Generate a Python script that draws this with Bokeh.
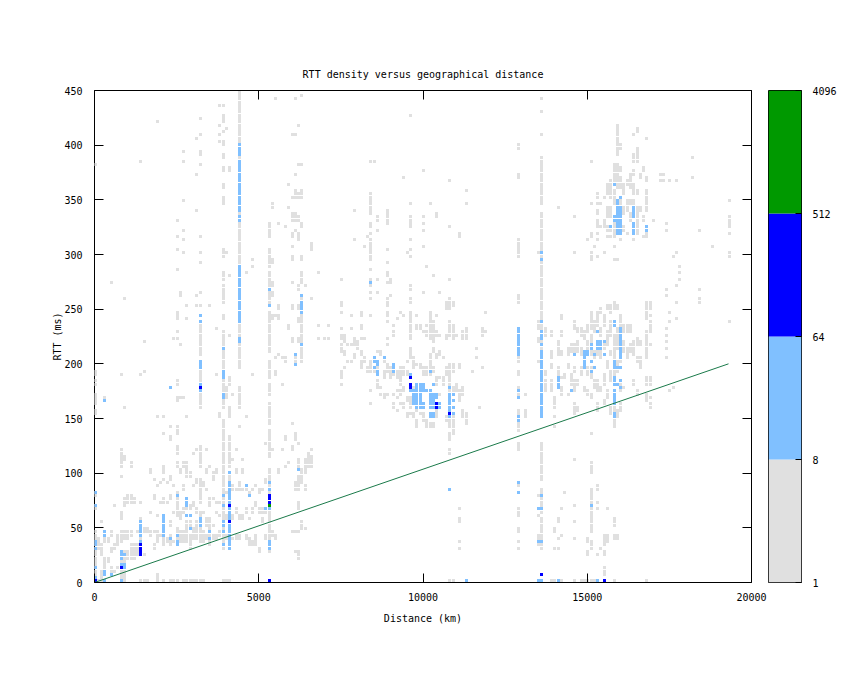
import math
from bokeh.plotting import figure
from bokeh.layouts import row
from bokeh.models import ColumnDataSource, FixedTicker, LinearAxis, Range1d
from bokeh.embed import file_html
from bokeh.resources import INLINE

# Each run: (distance km, rtt_lo, rtt_hi, rtt_lo, rtt_hi, ...)
gray_west = [
 (0,0,48,66,72,78,84,152,160,162,175,180,187,190,195,380,383),
 (100,0,3,30,42),(200,0,12,24,36,54,57),(300,5,25,36,48,165,170),(400,18,24,36,42),
 (500,8,14,28,34,42,48,272,275),(600,8,12,30,36,70,73),(700,12,16,34,44),
 (800,0,30,36,48,56,66,96,100,106,124,190,193),
 (900,0,12,17,30,40,48,68,78,110,118,160,163,257,260),
 (1000,22,30,40,48,72,80),(1100,22,36,42,48,72,82,105,112),(1200,22,36,72,78),
 (1300,24,36,44,48),(1400,0,3,24,60,72,76,190,193,384,386),(1500,0,3,24,27,46,50,192,195,218,221),
 (1600,0,3,46,50),(1700,42,48,62,66,100,105),(1800,30,36,44,48,74,80,92,95),
 (1900,0,10,36,48,60,63,88,91,150,153,420,423),(2000,42,46,72,76,90,93),
 (2100,0,3,33,62,72,78,92,95,100,108,135,138,150,153),(2200,36,42,72,75,90,93),
 (2300,0,3,34,44,50,56,76,80,92,100,130,135,140,145,177,180),(2400,0,3,36,40,62,66,86,90,222,225),
 (2500,0,3,33,50,60,84,104,110,118,125,135,143,165,172,180,186,222,225,229,232,240,250,285,288,303,306,316,319,330,333),
 (2600,36,48,58,66,100,106,168,172,215,218,260,266),
 (2700,0,3,36,48,62,70,84,90,106,112,168,172,300,303,312,315,320,323,348,351,383,386,393,396),
 (2800,0,3,36,58,66,78,96,111,150,153,240,242,252,254),(2900,0,3,30,44,50,56,66,72,96,102),
 (3000,0,3,38,50,68,74,86,90,118,120),(3100,0,3,40,56,64,70,90,96,120,123,252,255,262,265,340,343,372,375,404,406),
 (3200,0,3,36,66,72,95,105,125,160,196,206,236,314,317,300,303,292,295,265,268,252,255,380,383,390,395,408,410,423,425),
 (3300,0,3,36,48,62,66,86,92),(3400,40,44,52,60,84,88,100,104,120,123),
 (3500,33,60,70,78,105,108,252,254),(3600,38,44,50,54,74,78,92,102),(3700,40,44,62,66,72,75,100,104,190,193,232,234),
 (3800,42,48,60,64,72,75,150,155,408,410,416,420,402,405,434,437),
 (3900,0,3,30,45,45,125,125,150,160,220,220,232,240,245,254,272,275,284,296,305,345,355,360,365,375,382,386,394,399,404,412,415,420,428,436,438),
 (4000,0,3,38,44,58,64,80,84,168,180,300,303,415,418),
 (4100,0,3,30,100,105,125,125,135,150,162,180,190,226,228,280,283,374,380),
 (4200,38,42,56,62,84,90,110,113,170,172),(4300,38,46,64,68,84,88,100,105,120,123),
 (4400,40,44,58,62,84,92,140,145,160,180,195,225,225,240,240,290,290,340,340,400,400,450),
 (4500,56,64,84,88,100,105,110,113),(4600,38,44,64,68,84,88,150,153,282,284),
 (4700,32,42,56,60,78,84),(4800,32,40,64,70,84,88,190,193,288,290,293,296),(4900,32,44,70,74,86,90),
 (5000,28,34,62,68,82,86),(5100,54,60,64,68,84,88),(5200,40,46,64,68,90,96,125,130),
 (5300,0,3,28,40,40,68,68,105,115,140,145,165,172,182,185,205,210,250,252,284,288,306,316,330),
 (5400,42,48,120,124,240,245,260,266,270,276,290,297,342,348),(5500,40,44,190,194,203,206,243,246,441,443),
 (5600,100,104,206,210,240,245,250,256,328,331),(5700,120,124,180,183,205,208),
 (5800,104,108,130,135,200,206,323,326),(5900,108,112,232,237,342,344,364,366),
 (6000,44,48,120,125,143,147,220,226,250,255,272,277,295,300,305,308,315,322,330,338,350,354,408,411),
 (6100,26,30,44,48,84,92,130,138,200,210,320,325,330,340,350,360,372,376,408,411,442,444),
 (6200,20,30,44,48,66,75,84,100,106,115,125,130,220,225,238,242,250,255,268,273,312,320,330,335,352,357,380,383,416,418),
 (6300,48,56,90,105,200,250,250,260,272,285,295,300,325,330,350,360,380,384,444,447),
 (6400,48,52,85,90,100,115,270,272),(6500,105,120),(6600,105,118,120,124,258,262,304,313),
]
gray_mid = [
 (6800,223,226,233,236,282,284),(7000,223,226),(7100,223,225,233,236),
 (7500,180,183,187,189,190,194,210,218,221,229,230,233,245,250,251,257,275,278),
 (7600,195,198,208,212,220,228),(7700,200,205,215,220),(7800,200,203,215,218,230,233,242,245),
 (7900,205,210,215,222,223,226,311,314,338,341),(8000,214,222),(8100,195,204,208,214,223,226,230,236,242,245,245,247),
 (8200,202,206,223,226,305,308),(8300,192,198,314,317),
 (8400,192,205,174,177,162,165,242,245,257,260,263,266,269,272,275,278,284,287,293,314,317,322,323,329,335,345,345,356,383,386),
 (8500,192,198,383,386),(8600,178,186,192,198,210,213,320,322,329,335,263,266,275,278),
 (8700,170,175,176,180,208,213),(8800,168,174,186,195,200,204),
 (8900,170,175,192,202,215,218,223,226,236,239,242,250,251,260,272,275,278,280,282,284,290,293,303,305,326,335,335,341),
 (9000,186,198,260,263,272,278),(9100,159,164,170,175,190,198,225,230,233,236),(9200,155,160,168,172,174,178,186,196,240,242),
 (9300,162,166,170,178,180,198,245,247),(9400,158,166,175,180,190,198,242,245,370,373),
 (9500,150,155,165,170,190,195,200,205,299,302),
 (9600,152,156,160,170,185,190,205,215,223,250,254,260,266,272,296,300,303,305,311,314,323,335,345,347,425,428),
 (9700,150,157,175,180,196,200,202,206),(9800,140,150,155,160,198,202,230,236,242,245),(9900,153,156,195,200,230,236),
 (10000,147,155,175,180,190,198,228,232,263,266,305,308,320,322,326,329,332,335,374,377),
 (10100,142,150,190,198,225,230,229,232,233,236,287,290),(10200,140,146,190,210,223,250,346,349),
 (10300,140,146,192,198,210,215,220,239,278,280),(10400,150,158,180,190,205,210,225,232,242,245,332,338),
 (10500,172,175,185,190,208,212,226,229,263,266),(10600,180,188,203,208),(10700,147,153,190,197,223,227,248,250,251,257),
 (10800,0,3,118,122,130,138,140,185,185,200,225,240,248,260,275,280,323,326,366,368),
 (10900,0,3,135,155,170,180,192,200,225,230,223,226,230,237,251,257),(11000,175,183,226,229),
 (11100,30,33,35,40,55,60,65,70,165,178,195,200,314,320),(11200,151,159,171,180,223,230),(11300,0,3,145,156,223,233,344,346,357,359),
 (11500,193,195),(11600,204,208,214,216),(11700,160,162),(11800,195,197,226,233),(11900,227,230,245,247),
]
gray_east = [
 (12900,30,33,35,38,44,50,60,70,80,85,88,92,120,128,138,160,170,180,190,195,200,207,209,215,230,233,254,263,296,300,301,314,368,374,396,401),
 (13100,150,160,170,174),(13500,0,3,32,36,40,45,60,62,78,82,200,205,220,224,230,240,300,303),
 (13600,30,48,48,60,63,88,94,120,120,130,150,155,155,240,240,292,292,340,345,390,408,410,429,431,441,443),
 (13700,175,185,190,195,225,233),(13900,174,186,195,200,204,212,225,230,0,3),(14000,30,33,44,50,140,142,150,154,160,172,0,3),
 (14100,0,3,183,198,206,222,40,43,55,60,30,33,342,345),(14200,0,3,170,180,186,190,206,212,225,230,240,245,41,43,65,70),
 (14300,186,192,80,82),(14400,170,174,195,200,208,216),(14500,180,192,210,220),
 (14600,55,58,40,43,70,73,153,165,174,186,192,198,206,218,230,240,110,113,300,303,332,335,0,3),(14700,155,162,180,186,210,222,228,234),
 (14800,0,3,189,198,207,216,225,234),(14900,0,3,175,180,198,207,222,231),(15000,0,3,25,30,35,42,171,177,190,198,210,222,228,237,312,315),
 (15100,0,3,30,40,45,55,55,72,72,80,80,88,100,110,168,174,186,198,207,228,232,250,294,302,316,320,345,347,383,385,134,137),
 (15200,0,3,177,186,204,213,228,240,305,308),
 (15300,0,3,24,26,65,70,72,75,85,90,156,165,174,186,207,216,234,249,296,299,311,314,317,320,324,332,336,341,345,349,352,358),
 (15400,30,32,174,180,204,213,225,234,246,252,325,328,345,349),
 (15500,0,3,5,8,10,14,25,30,34,44,162,168,180,192,213,222,234,246,324,332,350,353,299,301),
 (15600,35,44,65,70,168,177,195,204,216,231,250,255,316,318,320,326,333,345,354,366),
 (15700,153,162,183,195,207,213,225,240,246,255,316,318,320,326,333,345,350,368),
 (15800,0,3,38,44,52,60,141,150,156,174,186,198,204,228,234,240,249,258,294,296,305,307,315,330,345,360,366,384),
 (15900,40,45,150,160,192,204,213,234,248,255,294,296,317,350,360,384,390,398,400,413,414,420),
 (16000,155,165,174,186,201,216,234,246,312,315,317,350,360,372,375,380,395,403),
 (16100,177,180,210,222,228,237,320,328,336,345,355,365),(16200,204,216,228,237,318,322,340,350,362,370),
 (16300,210,219,228,237,330,340,345,350,360,375),(16400,180,186,207,222,312,315,336,350,354,366,372,378,385,392,408,410),
 (16500,171,177,201,207,216,225,318,345,354,360,384,396,395,398,412,416),(16600,195,207,216,222,340,345,370,375),(16700,315,318,330,336,375,382),
 (16800,0,3,165,175,180,190,205,232,240,257,316,322,340,360,365,372,406,408),
 (16900,160,165,168,172,180,190,216,220,227,240,243,247,248,257),(17000,330,333),(17200,366,368,371,374),
 (17300,371,374,366,368),(17400,203,206,213,216,220,222,225,228,232,235,260,263,268,271,321,324,327,330),
 (17500,174,177,238,241,247,250,366,368),(17600,176,178,298,300),(17700,240,242,254,257,270,272,299,301,366,368),
 (17800,275,277,282,284,288,290),(18200,368,371,387,389),(18400,255,260,267,270,320,322),(18800,306,309),
 (19300,236,239,296,302,317,320,324,335,347,350),
]
light_runs = [
 (0,3,6,12,15,30,33,33,39,69,72,81,84),(300,0,3,6,12,42,48,165,168),(500,6,9),(800,0,3,15,18,21,30),
 (900,12,18,24,27),(1400,36,39,42,54,54,57),(2100,42,54,54,63),(2300,39,42,177,180),
 (2500,33,39,42,45,78,81),(2800,60,63,69,72,72,78),(2900,48,51,60,63),
 (3200,51,54,54,60,174,177,180,183,195,198,198,204,242,245,236,239),
 (3500,39,42,45,48),(3900,33,36,45,48,51,54,54,57,69,72,78,81,168,174,186,189,189,195,213,216),
 (4100,30,33,33,42,42,54,57,63,63,69,72,84,84,93,99,102),(4400,219,225,237,240,240,252,252,261,261,273,273,282,282,288,288,291,330,336,339,345,345,357,357,366,366,378,378,387,390,396,396,402),
 (4600,87,90),(4700,78,81),(5200,66,69),(5300,30,33,33,39,66,69,84,87,90,93,252,255,267,270),
 (6100,198,201,207,210),(6200,102,105),(6300,216,219,246,252,252,258,261,264),
 (8400,273,276),(8500,195,198,201,207),(8600,189,195,198,204),(8800,204,207),(9100,192,198,198,201),
 (9600,174,177,189,192),(9700,162,174,174,177),(9800,159,168,168,183),(9900,159,168,168,183),(10000,159,165,174,177,177,183),
 (10100,174,177),(10200,150,156,159,174,192,195,174,177),(10300,150,156,159,174,180,183),(10400,168,174),(10500,159,165),
 (10800,150,153,156,168,168,174,177,180),(10900,153,156,165,168,171,174,159,162),
 (10800,84,87),(11300,0,3),(12900,81,84,90,93,147,153,168,171,174,177,207,210,210,219,219,231,231,234),
 (13500,0,3,36,39,66,69),(13600,0,3,36,39,66,69,78,81,150,156,156,168,168,177,177,189,189,198,198,210,210,213,216,219,222,231,237,240,294,297,300,303),
 (14100,0,3,177,189),(14500,174,177),(14600,207,210),(14900,195,198,198,210,210,213),(15000,207,210,210,213),
 (15100,69,72,192,195,201,204,213,219),(15200,195,198,207,210),(15300,0,3,213,219,219,222,228,231),(15400,213,222),(15500,207,210,219,222),
 (15700,324,327),(15800,150,156,162,168,168,177,180,189,195,198,198,204,234,240,330,336,363,366),
 (15900,180,183,195,198,318,324,324,336,336,345,345,351),
 (16000,177,180,183,186,195,198,204,210,210,222,222,231,231,234,318,324,324,336,336,345,351,354),
 (16400,318,324,324,330,333,336,336,345),(16800,321,324,324,327),
]
blue_runs = [(0,0,3),(800,12,15),(1400,24,33,33,36),(3200,177,180),(4100,54,57,69,72),(5300,0,3,72,81),
 (9600,177,183,186,189),(10400,159,165),(10800,153,156),(13600,6,9),(15500,0,3)]
green_runs = [(5300,69,72)]

line_km = [0, 19300]
line_rtt = [0, 200]
x_ticks = [0, 5000, 10000, 15000, 20000]
y_ticks = [0, 50, 100, 150, 200, 250, 300, 350, 400, 450]
cb_levels = [1, 8, 64, 512, 4096]
cb_colors = ["#e0e0e0", "#80c0ff", "#0000ff", "#009900"]

FW, FH = 657, 492
XMAX, YMAX = 20000, 450
SX, SY = FW / XMAX, FH / YMAX
FONT = "DejaVu Sans Mono"


def cells(*groups):
    seen = set()
    for g in groups:
        for rec in g:
            km = rec[0]
            for i in range(1, len(rec), 2):
                a = round(rec[i] / 3)
                b = max(round(rec[i + 1] / 3), a + 1)
                for k in range(a, b):
                    seen.add((km, k * 3))
    d = dict(left=[], right=[], top=[], bottom=[])
    for km, m in sorted(seen):
        px = math.floor(km * SX) - 0.5
        py = math.floor(m * SY) + 0.5
        d["left"].append(px / SX)
        d["right"].append((px + 3) / SX)
        d["bottom"].append(py / SY)
        d["top"].append((py + 3) / SY)
    return ColumnDataSource(d)


def style(ax):
    ax.major_tick_in = 9
    ax.major_tick_out = 0
    ax.minor_tick_in = 0
    ax.minor_tick_out = 0
    ax.axis_line_color = None
    ax.major_tick_line_color = "black"
    ax.major_label_text_font = FONT
    ax.major_label_text_font_size = "10px"
    ax.major_label_text_color = "black"
    ax.axis_label_text_font = FONT
    ax.axis_label_text_font_size = "10px"
    ax.axis_label_text_font_style = "normal"
    ax.axis_label_text_color = "black"


p = figure(width=767, height=660, output_backend="svg", toolbar_location=None,
           x_range=Range1d(0, XMAX), y_range=Range1d(0, YMAX),
           min_border_left=94, min_border_right=16, min_border_top=90, min_border_bottom=78,
           title="RTT density versus geographical distance")
p.title.align = "center"
p.title.text_font = FONT
p.title.text_font_size = "10px"
p.title.text_font_style = "normal"
p.title.text_color = "black"
p.title.standoff = 22
p.title.offset = -1
p.grid.visible = False
p.outline_line_color = "black"
p.outline_line_width = 1
p.background_fill_color = "white"

for src, col in [(cells(gray_west, gray_mid, gray_east), cb_colors[0]),
                 (cells(light_runs), cb_colors[1]),
                 (cells(blue_runs), cb_colors[2]),
                 (cells(green_runs), cb_colors[3])]:
    p.quad(left="left", right="right", top="top", bottom="bottom", source=src,
           fill_color=col, line_color=None)

p.line(line_km, line_rtt, line_color="#1a7a4a", line_width=1)

p.xaxis.ticker = FixedTicker(ticks=x_ticks)
p.yaxis.ticker = FixedTicker(ticks=y_ticks)
p.xaxis.axis_label = "Distance (km)"
p.yaxis.axis_label = "RTT (ms)"
p.xaxis.major_label_standoff = 10
p.yaxis.major_label_standoff = 12
p.xaxis.axis_label_standoff = 9
p.yaxis.axis_label_standoff = -2
for ax in list(p.xaxis) + list(p.yaxis):
    style(ax)

top_ax = LinearAxis(ticker=FixedTicker(ticks=x_ticks), major_label_overrides={t: "" for t in x_ticks})
right_ax = LinearAxis(ticker=FixedTicker(ticks=y_ticks), major_label_overrides={t: "" for t in y_ticks})
style(top_ax)
style(right_ax)
p.add_layout(top_ax, "above")
p.add_layout(right_ax, "right")

# colour bar
cb = figure(width=73, height=660, output_backend="svg", toolbar_location=None,
            x_range=Range1d(0, 1), y_axis_type="log", y_range=Range1d(cb_levels[0], cb_levels[-1]),
            y_axis_location="right",
            min_border_left=1, min_border_right=39, min_border_top=90, min_border_bottom=78)
cb.grid.visible = False
cb.xaxis.visible = False
cb.outline_line_color = "black"
cb.quad(left=0, right=1, bottom=cb_levels[:-1], top=cb_levels[1:], fill_color=cb_colors, line_color=None)
cb.yaxis.ticker = FixedTicker(ticks=cb_levels)
cb.yaxis.major_label_overrides = {v: str(v) for v in cb_levels}
cb.yaxis.major_label_standoff = 11
for ax in cb.yaxis:
    style(ax)
    ax.major_tick_in = 6

page = row(p, cb, spacing=0)
open("out.html", "w").write(file_html(page, INLINE))
